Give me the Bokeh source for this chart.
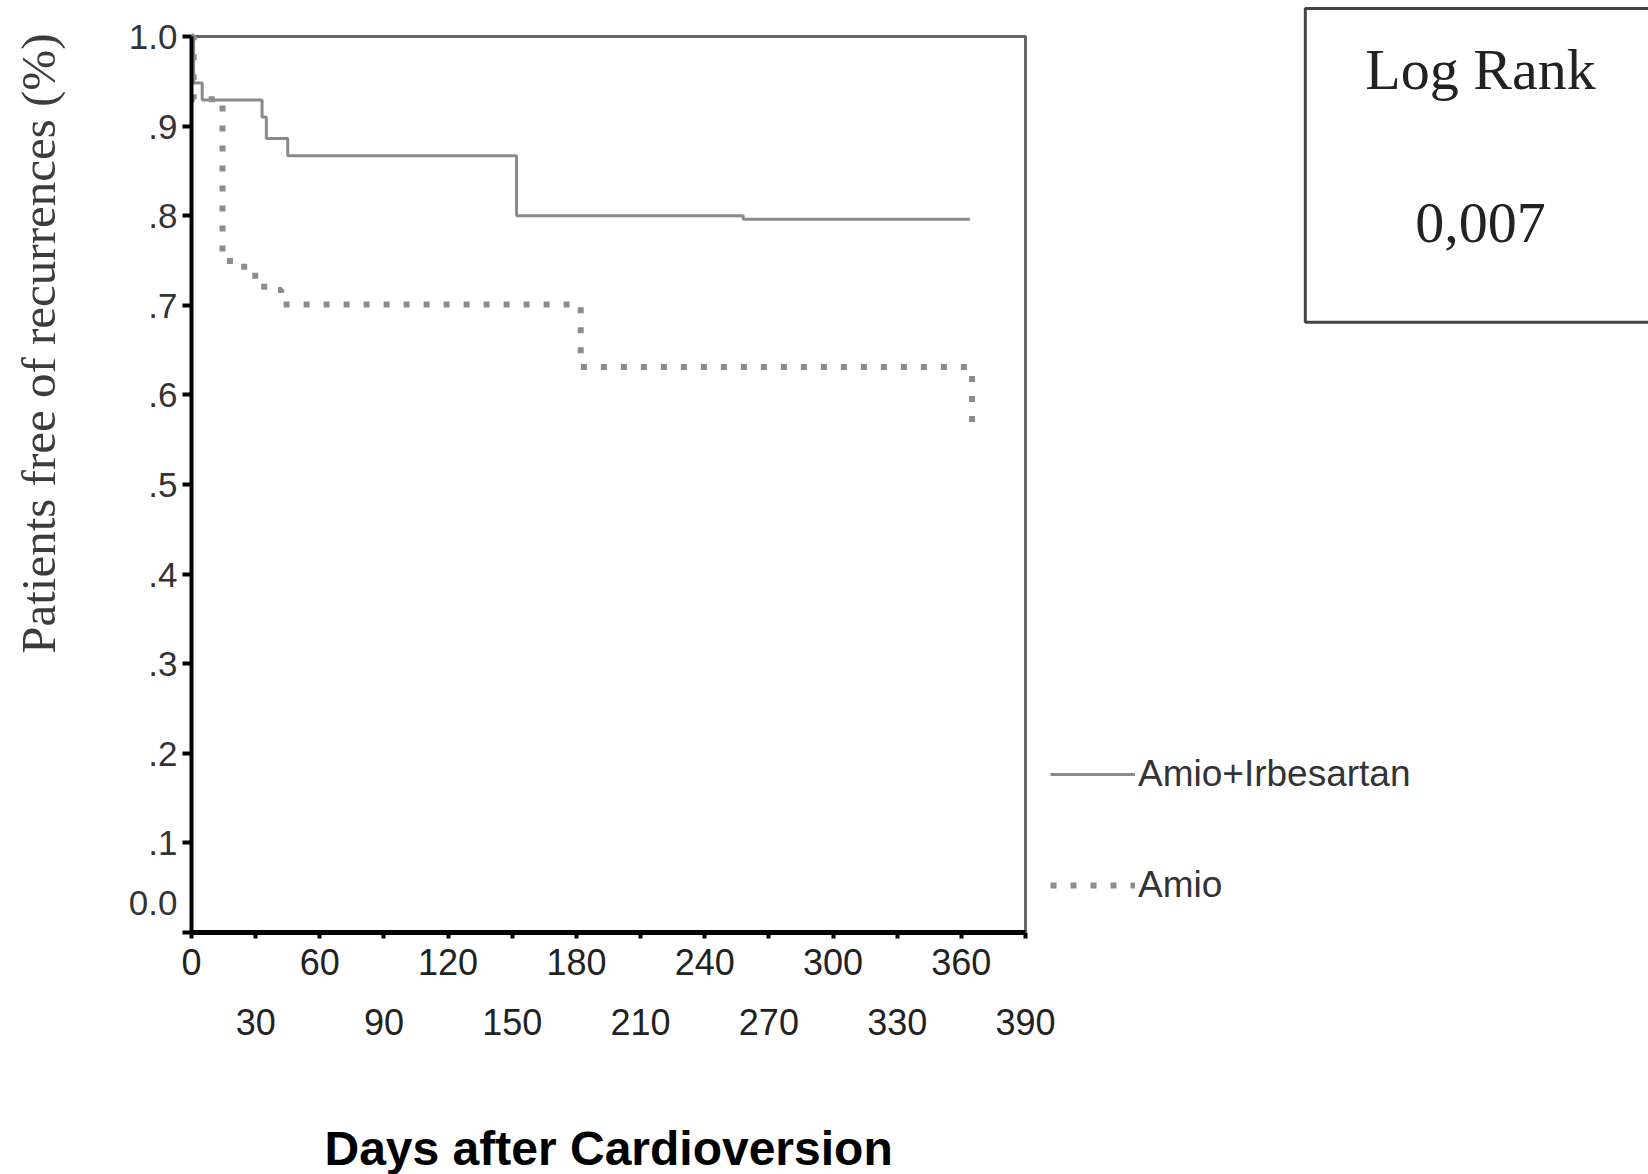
from bokeh.plotting import figure
from bokeh.models import LinearAxis, FixedTicker, Range1d, Legend, LegendItem, Label, Title
from bokeh.embed import file_html
from bokeh.resources import INLINE

# ---- data ----
series_names = ["Amio+Irbesartan", "Amio"]
days_irb = [0, 1, 5, 33, 35, 45, 152, 258, 364]
surv_irb = [1.0, 0.948, 0.929, 0.910, 0.886, 0.867, 0.800, 0.796, 0.796]
days_amio = [0, 1, 14.5, 18, 28, 34, 42, 182, 365]
surv_amio = [1.0, 0.930, 0.758, 0.743, 0.733, 0.717, 0.701, 0.631, 0.568]
x_ticks = [0, 30, 60, 90, 120, 150, 180, 210, 240, 270, 300, 330, 360, 390]
y_ticks = [0.0, 0.1, 0.2, 0.3, 0.4, 0.5, 0.6, 0.7, 0.8, 0.9, 1.0]
y_tick_labels = ["0.0", ".1", ".2", ".3", ".4", ".5", ".6", ".7", ".8", ".9", "1.0"]
log_rank_title = "Log Rank"
log_rank_p = "0,007"
x_title = "Days after Cardioversion"
y_title = "Patients free of recurrences (%)"

# ---- layout (pixels) ----
W, H = 1648, 1174
AX_L, AX_R, AX_T, AX_B = 191, 1025, 36, 933      # where the axes box sits
x0, x1 = x_ticks[0], x_ticks[-1]
y0, y1 = y_ticks[0], y_ticks[-1]
px_per_x = (AX_R - AX_L) / (x1 - x0)
px_per_y = (AX_B - AX_T) / (y1 - y0)
x_end = x0 + (W - AX_L) / px_per_x
y_end = y0 + AX_B / px_per_y

p = figure(width=W, height=H, x_range=Range1d(x0, x_end), y_range=Range1d(y0, y_end),
           output_backend="svg", toolbar_location=None,
           x_axis_location=None, y_axis_location=None,
           min_border_left=AX_L, min_border_right=0, min_border_top=0,
           min_border_bottom=H - AX_B)
p.background_fill_color = "white"
p.border_fill_color = "white"
p.outline_line_color = None
for g in p.grid:
    g.visible = False

# axes box (top / right edges), spanning the tick range
p.quad(left=[x0], right=[x1], bottom=[y0], top=[y1], fill_color=None,
       line_color="#666666", line_width=3)

# y axis
ylabels = {t: l for t, l in zip(y_ticks, y_tick_labels)}
ylabels[0.0] = y_tick_labels[0] + "\n "
yax = LinearAxis(ticker=FixedTicker(ticks=y_ticks), major_label_overrides=ylabels,
                 bounds=(y0, y1))
yax.axis_line_color = "black"
yax.axis_line_width = 4
yax.major_tick_out = 9
yax.major_tick_in = 0
yax.major_tick_line_width = 4
yax.major_tick_line_color = "black"
yax.minor_tick_line_color = None
yax.major_label_standoff = 5
yax.major_label_text_font = "Liberation Sans"
yax.major_label_text_font_size = "35px"
yax.major_label_text_color = "#333333"
yax.major_label_text_line_height = 1.55
yax.axis_label = " "
yax.axis_label_text_font_size = "1px"
yax.axis_label_standoff = 51
p.add_layout(yax, "left")

p.add_layout(Title(text=y_title, align="right", text_font="Liberation Serif",
                   text_font_size="49px", text_font_style="normal", text_color="#3c3c3c",
                   offset=33), "left")

# x axes (two staggered rows of labels)
xax1 = LinearAxis(ticker=FixedTicker(ticks=x_ticks), bounds=(x0, x1),
                  major_label_overrides={t: (str(t) if t % 60 == 0 else "") for t in x_ticks})
xax1.axis_line_color = "black"
xax1.axis_line_width = 5
xax1.major_tick_out = 6
xax1.major_tick_in = 0
xax1.major_tick_line_width = 4
xax1.major_tick_line_color = "black"
xax1.minor_tick_line_color = None
xax1.major_label_standoff = 10
xax1.major_label_text_font = "Liberation Sans"
xax1.major_label_text_font_size = "36px"
xax1.major_label_text_color = "#222222"
p.add_layout(xax1, "below")

xax2 = LinearAxis(ticker=FixedTicker(ticks=x_ticks), bounds=(x0, x1),
                  major_label_overrides={t: (str(t) if t % 60 == 30 else "") for t in x_ticks})
xax2.axis_line_color = None
xax2.major_tick_line_color = None
xax2.minor_tick_line_color = None
xax2.major_tick_out = 0
xax2.major_label_standoff = 31
xax2.major_label_text_font = "Liberation Sans"
xax2.major_label_text_font_size = "36px"
xax2.major_label_text_color = "#222222"
xax2.axis_label = " "
xax2.axis_label_text_font_size = "1px"
xax2.axis_label_standoff = 78
p.add_layout(xax2, "below")

p.add_layout(Title(text=x_title, align="left", offset=324 - AX_L, standoff=0,
                   text_font="Liberation Sans", text_font_size="48px",
                   text_font_style="bold", text_color="black"), "below")

# curves
r1 = p.step(days_irb, surv_irb, mode="after", line_color="#8a8a8a", line_width=3)
r2 = p.step(days_amio, surv_amio, mode="after", line_color="#8c8c8c", line_width=6,
            line_dash="6 14")

legend = Legend(items=[LegendItem(label=series_names[0], renderers=[r1]),
                       LegendItem(label=series_names[1], renderers=[r2])],
                location=(1050 - AX_L, 26), glyph_width=85, glyph_height=40, label_height=40,
                spacing=69, padding=0, margin=0, border_line_color=None,
                background_fill_alpha=0, label_standoff=3,
                label_text_font="Liberation Sans", label_text_font_size="37px",
                label_text_color="#333333")
p.add_layout(legend)

box = Label(x=x0 + (1480 - AX_L) / px_per_x, y=y0 + (AX_B - 165) / px_per_y,
            x_units="data", y_units="data",
            text=log_rank_title + "\n" + log_rank_p,
            text_align="center", text_baseline="middle",
            text_font="Liberation Serif", text_font_size="58px", text_color="#222222",
            text_line_height=2.35, border_line_color="#444444", border_line_width=3,
            background_fill_color="white",
            padding=dict(left=60, right=60, top=29, bottom=67))
p.add_layout(box)

open("out.html", "w").write(file_html(p, INLINE))
